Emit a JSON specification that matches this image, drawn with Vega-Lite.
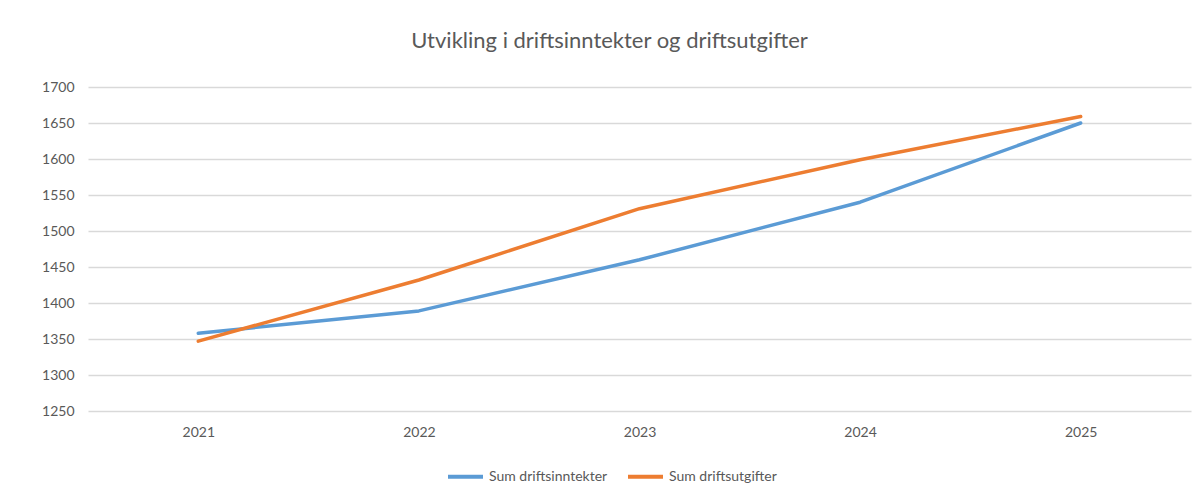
{
  "$schema": "https://vega.github.io/schema/vega-lite/v6.json",
  "autosize": {"type": "none"},
  "width": 1103,
  "height": 324,
  "padding": {"left": 88, "top": 87, "right": 6, "bottom": 84},
  "background": "white",
  "title": {
    "text": "Utvikling i driftsinntekter og driftsutgifter",
    "font": "Lato",
    "fontSize": 22,
    "fontWeight": "normal",
    "color": "#595959",
    "anchor": "middle",
    "frame": "group",
    "baseline": "middle",
    "dx": -30,
    "offset": 17
  },
  "data": {
    "values": [
      {"year": "2021", "serie": "Sum driftsinntekter", "value": 1358},
      {"year": "2022", "serie": "Sum driftsinntekter", "value": 1389},
      {"year": "2023", "serie": "Sum driftsinntekter", "value": 1460},
      {"year": "2024", "serie": "Sum driftsinntekter", "value": 1540},
      {"year": "2025", "serie": "Sum driftsinntekter", "value": 1650},
      {"year": "2021", "serie": "Sum driftsutgifter", "value": 1347},
      {"year": "2022", "serie": "Sum driftsutgifter", "value": 1432},
      {"year": "2023", "serie": "Sum driftsutgifter", "value": 1531},
      {"year": "2024", "serie": "Sum driftsutgifter", "value": 1599},
      {"year": "2025", "serie": "Sum driftsutgifter", "value": 1659}
    ]
  },
  "mark": {"type": "line", "strokeWidth": 3.5, "strokeCap": "round", "strokeJoin": "round"},
  "encoding": {
    "x": {
      "field": "year",
      "type": "ordinal",
      "scale": {"type": "point", "padding": 0.5},
      "axis": {
        "title": null,
        "labelAngle": 0,
        "domain": false,
        "ticks": false,
        "grid": false,
        "labelFont": "Lato",
        "labelFontSize": 14,
        "labelColor": "#595959",
        "labelPadding": 14
      }
    },
    "y": {
      "field": "value",
      "type": "quantitative",
      "scale": {"domain": [1250, 1700], "nice": false, "zero": false},
      "axis": {
        "title": null,
        "format": "d",
        "values": [1250, 1300, 1350, 1400, 1450, 1500, 1550, 1600, 1650, 1700],
        "domain": false,
        "ticks": false,
        "gridColor": "#D9D9D9",
        "gridWidth": 1.3,
        "labelFont": "Lato",
        "labelFontSize": 14,
        "labelColor": "#595959",
        "labelPadding": 14
      }
    },
    "color": {
      "field": "serie",
      "type": "nominal",
      "scale": {"domain": ["Sum driftsinntekter", "Sum driftsutgifter"], "range": ["#5B9BD5", "#ED7D31"]},
      "legend": {
        "title": null,
        "orient": "none",
        "direction": "horizontal",
        "legendX": 358,
        "legendY": 370,
        "symbolType": "stroke",
        "symbolSize": 1225,
        "symbolStrokeWidth": 4,
        "labelFont": "Lato",
        "labelFontSize": 14,
        "labelColor": "#595959",
        "labelOffset": 4,
        "columnPadding": 12
      }
    }
  },
  "config": {"view": {"stroke": null}}
}
